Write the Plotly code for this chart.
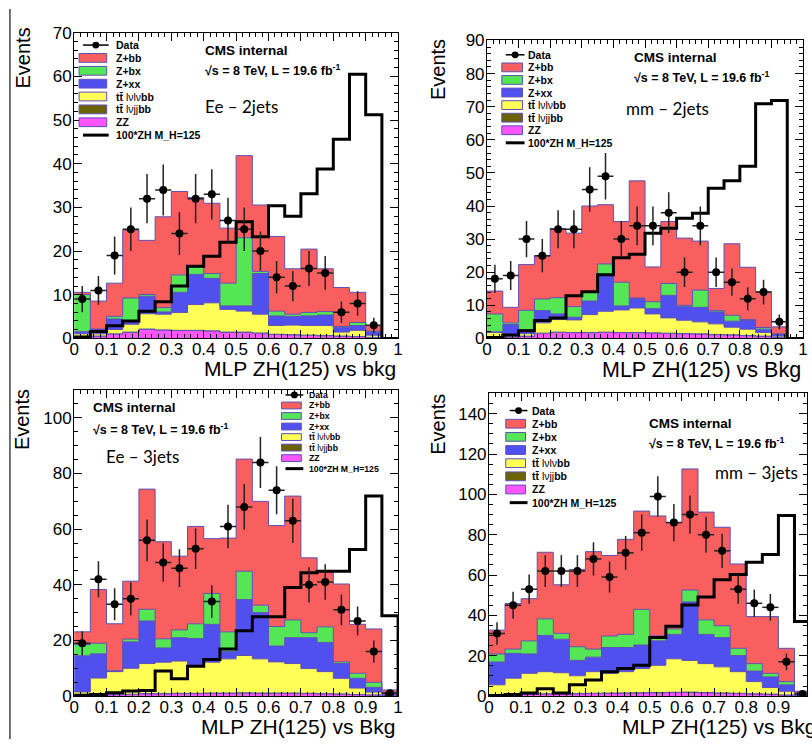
import numpy as np
import plotly.graph_objects as go

W, H = 812, 749
def px(x): return x / W
def py(y): return 1 - y / H

# ---------------- data ----------------
bin_edges = [0.0, 0.05, 0.1, 0.15, 0.2, 0.25, 0.3, 0.35, 0.4, 0.45, 0.5,
             0.55, 0.6, 0.65, 0.7, 0.75, 0.8, 0.85, 0.9, 0.95, 1.0]
bin_centers = [0.025, 0.075, 0.125, 0.175, 0.225, 0.275, 0.325, 0.375, 0.425, 0.475,
               0.525, 0.575, 0.625, 0.675, 0.725, 0.775, 0.825, 0.875, 0.925, 0.975]

legend_labels = ["<b>Data</b>", "<b>Z+bb</b>", "<b>Z+bx</b>", "<b>Z+xx</b>",
                 "<b>tt̄</b> lνlν<b>bb</b>",
                 "<b>tt̄</b> lνjj<b>bb</b>",
                 "<b>ZZ</b>", "<b>100*ZH M_H=125</b>"]
channel_labels = ["Ee – 2jets", "mm – 2jets", "Ee – 3jets", "mm – 3jets"]
x_titles = ["MLP ZH(125) vs bkg", "MLP ZH(125) vs Bkg", "MLP ZH(125) vs Bkg", "MLP ZH(125) vs Bkg"]

# Ee - 2jets
tl_zz   = [0.4,0.5,1.0,1.4,2.1,1.9,1.8,1.8,1.7,1.4,1.4,1.2,0.9,0.8,0.7,0.6,0.5,0.4,0.2,0]
tl_ttjj = [0.05,0.05,0.05,0.05,0.05,0.05,0.05,0.05,0.05,0.05,0.05,0.05,0.05,0.05,0.05,0.05,0.05,0.05,0.05,0]
tl_ttll = [0.6,0.5,1.0,1.8,3.5,3.6,4.1,5.9,6.4,5.2,4.8,4.3,2.0,2.2,2.2,2.3,0.9,1.4,0.5,0]
tl_zxx  = [0.5,1.0,2.4,0.6,4.0,0.5,4.6,6.9,5.6,0.8,1.2,9.3,2.2,2.0,2.2,2.4,1.1,1.1,0.7,0]
tl_zbx  = [8.5,0.1,0.6,5.4,0.4,1.0,4.0,1.7,1.1,5.2,15.6,0.5,1.1,0.5,0.8,0.8,0.2,0.7,0.2,0]
tl_zbb  = [0.5,6.4,7.6,15.6,12.4,20.8,19.1,15.9,16.1,12.6,18.8,15.2,17.1,10.4,14.5,9.8,8.9,6.9,1.3,0]
tl_sig  = [0.3,1.6,2.9,4.0,6.2,8.4,12.0,16.5,18.8,22.0,26.7,23.3,30.4,28.0,33.1,38.8,45.6,60.5,51.2,0]
tl_data = [9,11,19,25,32,34,24,32,33,27,25,20,14,12,16,15,6,8,3,None]

# mm - 2jets
tr_zz   = [0.3,0.4,0.6,1.5,1.8,1.7,1.7,1.8,1.7,1.7,1.6,1.5,1.4,1.3,1.1,1.0,0.8,0.6,0.3,0]
tr_ttjj = [0.1,0.1,0.1,0.1,0.1,0.1,0.1,0.1,0.1,0.1,0.1,0.1,0.1,0.1,0.1,0.1,0.1,0.1,0.05,0]
tr_ttll = [1.4,0.7,0.8,3.1,3.8,3.8,5.4,6.3,6.8,7.4,5.7,4.6,4.0,3.6,3.2,2.3,1.9,1.1,0.35,0]
tr_zxx  = [0.2,3.0,1.2,3.7,1.7,0.8,4.1,10.8,1.2,2.9,1.6,6.8,4.1,4.4,3.6,1.8,2.6,1.0,0.6,0]
tr_zbx  = [5.4,0.5,5.8,3.5,4.9,3.2,2.8,3.5,7.2,0.1,2.1,3.6,0.4,5.2,0.4,1.8,0.3,0.5,0.1,0]
tr_zbb  = [6.9,4.7,13.8,13.0,20.9,22.2,25.9,17.9,18.3,35.4,10.5,18.7,20.3,14.8,6.7,21.6,15.8,10.8,2.1,0]
tr_sig  = [0.3,1.0,2.3,5.4,6.2,12.9,14.1,19.2,24.4,25.4,31.8,33.3,36.3,37.8,45.4,47.6,52.0,70.9,71.9,0]
tr_data = [18,19,30,25,33,33,45,49,30,34,34,38,20,34,20,17,12,14,5,None]

# Ee - 3jets
bl_zz   = [0.3,0.4,0.5,0.6,0.8,0.8,0.9,0.9,1.0,1.0,1.1,1.0,1.0,1.0,0.9,0.8,0.7,0.5,0.4,0.2]
bl_ttjj = [0.1,0.1,0.1,0.1,0.1,0.1,0.1,0.1,0.1,0.1,0.1,0.1,0.1,0.1,0.1,0.1,0.1,0.1,0.05,0.05]
bl_ttll = [1.1,6.0,8.2,9.3,10.8,11.3,11.6,10.1,11.1,12.3,13.4,12.3,11.2,10.6,8.9,7.9,5.6,2.3,1.0,0.25]
bl_zxx  = [13.0,8.7,0.2,9.5,15.3,5.1,8.4,9.6,13.6,2.6,20.1,16.6,5.7,9.3,11.1,10.5,5.3,3.5,1.7,0.7]
bl_zbx  = [4.0,3.8,0.1,1.0,4.2,3.3,2.8,5.3,11.1,7.1,10.2,2.7,7.0,6.4,1.8,5.6,0.6,1.8,1.8,0.1]
bl_zbb  = [4.6,19.3,16.9,20.8,43.2,34.9,26.5,35.0,19.7,33.7,40.3,37.3,36.3,44.5,26.9,20.2,28.0,17.6,19.2,0.9]
bl_sig  = [0.35,0.6,1.2,1.8,2.0,9.0,6.2,10.7,13.2,16.9,23.5,28.5,28.5,39.0,44.3,44.9,44.9,52.7,71.9,28.9]
bl_data = [19,42,33,35,56,48,46,53,34,61,68,84,74,63,40,41,31,27,16,1]

# mm - 3jets
br_zz   = [0.5,0.6,0.8,1.0,1.0,1.1,1.2,1.3,1.4,1.5,1.6,1.7,1.8,1.6,1.4,1.2,1.0,0.8,0.5,0.3]
br_ttjj = [0.2,0.2,0.2,0.2,0.2,0.2,0.2,0.2,0.2,0.2,0.2,0.2,0.2,0.2,0.2,0.2,0.2,0.2,0.1,0.05]
br_ttll = [4.9,8.1,10.3,10.9,10.4,8.8,10.7,9.8,10.5,12.0,13.5,16.6,15.7,14.3,12.9,10.7,6.0,3.3,1.8,0.45]
br_zxx  = [11.3,12.3,9.6,18.0,16.6,7.6,7.2,12.8,12.0,11.6,12.1,12.1,29.0,14.5,14.5,8.0,5.2,5.2,3.2,0.4]
br_zbx  = [4.0,2.1,6.5,8.2,2.9,6.8,4.0,5.7,6.5,17.7,2.4,2.7,5.9,7.2,5.9,3.6,3.7,1.8,1.6,0.3]
br_zbb  = [11.8,22.6,20.9,33.0,24.1,38.3,48.3,39.9,47.1,48.7,59.5,52.8,60.0,53.4,48.8,41.8,23.3,28.1,16.5,0.9]
br_sig  = [0.3,0.8,1.6,3.7,1.6,5.6,8.0,12.1,13.7,15.3,29.0,34.6,45.1,49.1,57.7,60.3,66.3,70.2,89.5,37.0]
br_data = [31,45,53,62,62,62,68,59,71,81,99,86,90,80,72,53,46,44,17,1]

# ---------------- styles ----------------
# stack order bottom -> top: ZZ, tt lvjjbb, tt lvlvbb, Z+xx, Z+bx, Z+bb
stack_colors = ["#FF55FF", "#6B6200", "#FFFF55", "#5050EE", "#55E655", "#FA5F5F"]
outline = "#5E4FB5"
FONT = "Liberation Sans, Arial, sans-serif"

panels = [
    dict(ax="", comps=[tl_zz, tl_ttjj, tl_ttll, tl_zxx, tl_zbx, tl_zbb], sig=tl_sig, data=tl_data,
         xpix=(70, 398), ypix=(24.3, 338), xr=[0, 1], yr=[0, 70], ydt=10, ymin=2),
    dict(ax="2", comps=[tr_zz, tr_ttjj, tr_ttll, tr_zxx, tr_zbx, tr_zbb], sig=tr_sig, data=tr_data,
         xpix=(488, 808), ypix=(32.3, 338), xr=[0, 1], yr=[0, 90], ydt=10, ymin=2),
    dict(ax="3", comps=[bl_zz, bl_ttjj, bl_ttll, bl_zxx, bl_zbx, bl_zbb], sig=bl_sig, data=bl_data,
         xpix=(70, 398), ypix=(391, 705), xr=[0, 1], yr=[0, 110], ydt=20, ymin=5),
    dict(ax="4", comps=[br_zz, br_ttjj, br_ttll, br_zxx, br_zbx, br_zbb], sig=br_sig, data=br_data,
         xpix=(490, 812), ypix=(394.5, 705), xr=[0, (812 - 490) / 325.6], yr=[0, 150], ydt=20, ymin=5),
]

fig = go.Figure()
layout_axes = {}
for p in panels:
    xa = "x" + p["ax"]
    ya = "y" + p["ax"]
    cum = np.zeros(20)
    for k, comp in enumerate(p["comps"]):
        cum = cum + np.array(comp, dtype=float)
        yv = list(cum) + [cum[-1]]
        fig.add_trace(go.Scatter(
            x=bin_edges, y=yv, xaxis=xa, yaxis=ya, mode="lines",
            line=dict(shape="hv", color=outline, width=1),
            fill="tozeroy" if k == 0 else "tonexty", fillcolor=stack_colors[k],
            hoverinfo="skip", showlegend=False))
    # signal step line
    sx = [0.0] + bin_edges + [1.0]
    sy = [0.0] + list(p["sig"]) + [p["sig"][-1], 0.0]
    fig.add_trace(go.Scatter(x=sx, y=sy, xaxis=xa, yaxis=ya, mode="lines",
                             line=dict(shape="hv", color="black", width=3),
                             hoverinfo="skip", showlegend=False))
    # data
    dx = [c for c, d in zip(bin_centers, p["data"]) if d is not None]
    dy = [d for d in p["data"] if d is not None]
    fig.add_trace(go.Scatter(
        x=dx, y=dy, xaxis=xa, yaxis=ya, mode="markers",
        marker=dict(color="black", size=8),
        error_y=dict(type="data", array=[np.sqrt(v) for v in dy], color="#222222", thickness=1.5, width=0),
        error_x=dict(type="constant", value=0.025, color="#222222", thickness=1.5, width=0),
        hoverinfo="skip", showlegend=False))

    common = dict(showgrid=False, zeroline=False, showline=True, linecolor="black", linewidth=1,
                  mirror="ticks", ticks="inside", tickcolor="black", ticklen=8, tickwidth=1,
                  tickfont=dict(family=FONT, size=17, color="black"))
    layout_axes["xaxis" + p["ax"]] = dict(
        common, domain=[px(p["xpix"][0]), px(p["xpix"][1])], range=p["xr"], anchor=ya,
        tick0=0, dtick=0.1, ticklabelstandoff=-5,
        minor=dict(dtick=0.02, ticks="inside", ticklen=4, tickcolor="black", showgrid=False))
    layout_axes["yaxis" + p["ax"]] = dict(
        common, domain=[py(p["ypix"][1]), py(p["ypix"][0])], range=p["yr"], anchor=xa,
        tick0=0, dtick=p["ydt"], ticklabelstandoff=-2,
        minor=dict(dtick=p["ymin"], ticks="inside", ticklen=4, tickcolor="black", showgrid=False))

annotations = []
shapes = []

def ann(text, x, y, size, xanchor="left", bold=False, family=FONT, angle=0):
    annotations.append(dict(text=("<b>%s</b>" % text) if bold else text, x=px(x), y=py(y),
                            xref="paper", yref="paper", xanchor=xanchor, yanchor="middle",
                            showarrow=False, textangle=angle,
                            font=dict(family=family, size=size, color="black")))

# axis titles
for (xc, yc) in [(18, 50), (439, 62), (18, 421), (439, 426)]:
    ann("Events", xc, yc, 20, xanchor="center", angle=-90)
ann(x_titles[0], 398, 369, 21, xanchor="right")
ann(x_titles[1], 808, 370, 21.5, xanchor="right")
ann(x_titles[2], 398, 736, 21, xanchor="right")
ann(x_titles[3], 623, 736, 21, xanchor="left")

# CMS labels
cms_pos = [((200, 43), (200, 63), (200, 100)),
           ((635, 50), (635, 70), (627, 102)),
           ((87, 409), (87, 431), (100, 459)),
           ((650, 425), (650, 445), (717, 476))]
for i, (a, b, c) in enumerate(cms_pos):
    ann("CMS internal", a[0], a[1], 13.5, bold=True)
    ann("√s = 8 TeV, L = 19.6 fb<sup>-1</sup>", b[0], b[1], 12.5, bold=True)
    ann(channel_labels[i], c[0], c[1], 17, family="Lato, Open Sans, sans-serif")

# legends (drawn per panel)
def draw_legend(bx0, bx1, tx, y0, step, fs, bh):
    fill_order = [5, 4, 3, 2, 1, 0]  # Z+bb, Z+bx, Z+xx, ttll, ttjj, ZZ
    lx0, lx1 = bx0 + 4, bx1 + 2
    for i, lab in enumerate(legend_labels):
        yc = y0 + i * step
        if i == 0:
            shapes.append(dict(type="line", xref="paper", yref="paper", x0=px(lx0), x1=px(lx1),
                               y0=py(yc), y1=py(yc), line=dict(color="black", width=1.5)))
            xm = (lx0 + lx1) / 2
            r = 3.5
            shapes.append(dict(type="circle", xref="paper", yref="paper", x0=px(xm - r), x1=px(xm + r),
                               y0=py(yc + r), y1=py(yc - r), fillcolor="black", line=dict(color="black", width=0)))
        elif i == 7:
            shapes.append(dict(type="line", xref="paper", yref="paper", x0=px(lx0), x1=px(lx1),
                               y0=py(yc), y1=py(yc), line=dict(color="black", width=3)))
        else:
            shapes.append(dict(type="rect", xref="paper", yref="paper", x0=px(bx0), x1=px(bx1),
                               y0=py(yc + bh / 2), y1=py(yc - bh / 2),
                               fillcolor=stack_colors[fill_order[i - 1]], line=dict(color=outline, width=1)))
        annotations.append(dict(text=lab, x=px(tx), y=py(yc), xref="paper", yref="paper",
                                xanchor="left", yanchor="middle", showarrow=False,
                                font=dict(family=FONT, size=fs, color="black")))

draw_legend(75, 103, 110, 37, 13.2, 10.5, 9)
draw_legend(503, 524, 528, 47, 12.9, 10.5, 9)
draw_legend(280, 300, 306, 396, 10.8, 8.7, 7)
draw_legend(507, 527, 532, 412, 13.5, 10.5, 9)

# left slide border
shapes.append(dict(type="line", xref="paper", yref="paper", x0=px(5), x1=px(5), y0=0, y1=1,
                   line=dict(color="#444444", width=1.5)))

fig.update_layout(width=W, height=H, margin=dict(l=0, r=0, t=0, b=0),
                  paper_bgcolor="white", plot_bgcolor="white", showlegend=False,
                  annotations=annotations, shapes=shapes, **layout_axes)

fig.write_html("out.html")
